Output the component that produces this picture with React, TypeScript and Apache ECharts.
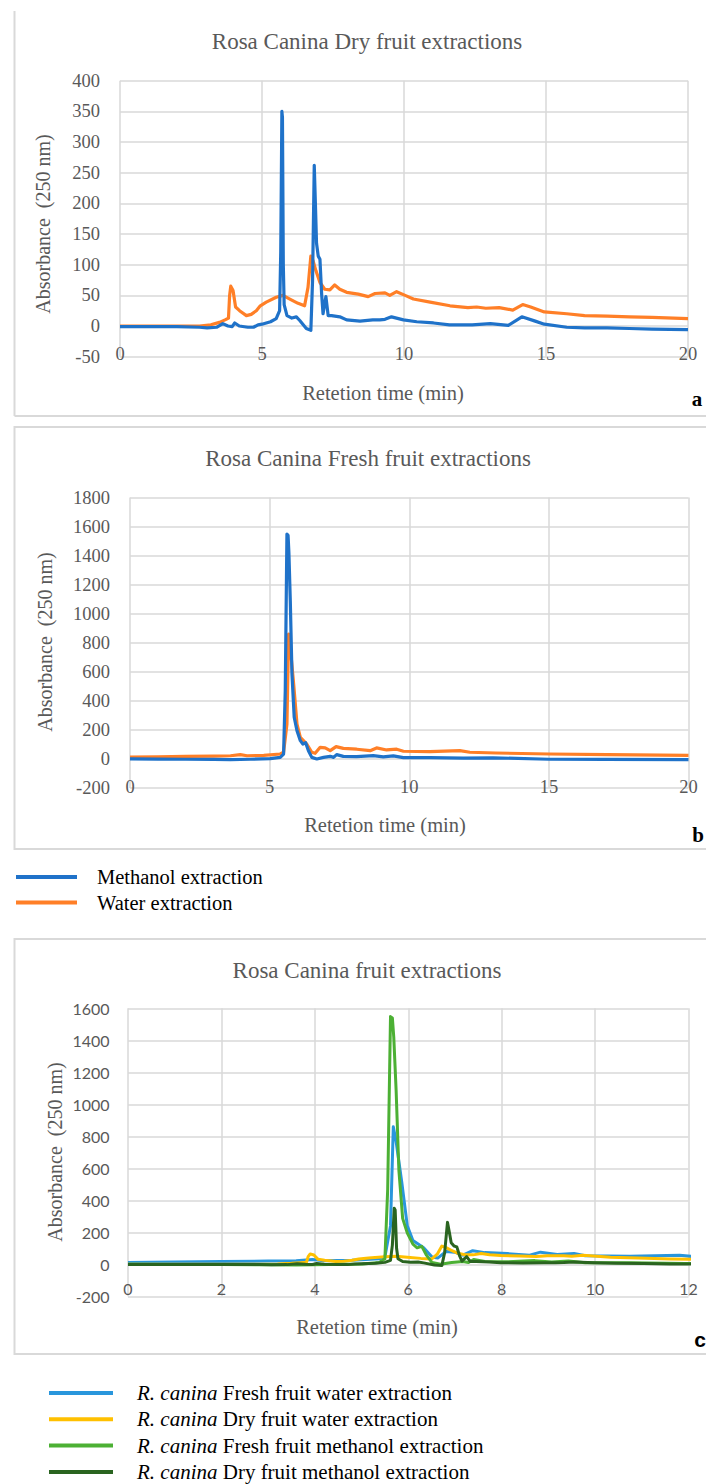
import React, { useEffect, useRef } from "react";
import * as echarts from "echarts";

// ---- Data (retention time in min, absorbance at 250 nm) ----
const dryMethanol: [number, number][] = [
  [0, -1], [1, -1], [2, -1], [2.8, -2], [3.07, -3], [3.4, -2], [3.62, 4], [3.8, 0], [3.95, -1], [4.04, 5],
  [4.2, 0], [4.5, -2], [4.7, -2], [4.86, 2], [5.0, 3], [5.3, 7], [5.5, 12], [5.62, 25], [5.66, 120],
  [5.7, 350], [5.72, 340], [5.75, 100], [5.78, 35], [5.88, 17], [6.05, 13], [6.21, 15], [6.33, 9],
  [6.56, -4], [6.72, -7], [6.78, 74], [6.84, 262], [6.88, 200], [6.92, 135], [6.98, 114], [7.04, 109],
  [7.1, 52], [7.15, 20], [7.25, 48], [7.33, 17], [7.45, 17], [7.74, 15], [7.98, 10], [8.45, 8], [8.9, 10],
  [9.15, 10], [9.33, 11], [9.56, 15], [9.98, 10], [10.45, 7], [11.04, 5], [11.6, 2], [12.4, 2], [13.04, 4],
  [13.67, 1], [14.15, 15], [14.62, 8], [14.94, 3], [15.73, -2], [16.36, -3], [17.15, -3], [17.94, -4],
  [18.73, -5], [20, -6],
];

const dryWater: [number, number][] = [
  [0, 0], [1, 0], [2, 0], [2.8, 0], [3.2, 2], [3.5, 6], [3.7, 10], [3.82, 13], [3.86, 50], [3.9, 65],
  [3.98, 58], [4.07, 31], [4.21, 25], [4.45, 17], [4.62, 19], [4.8, 25], [4.94, 33], [5.15, 39], [5.5, 47],
  [5.74, 50], [5.98, 44], [6.27, 37], [6.5, 33], [6.62, 63], [6.72, 114], [6.8, 106], [6.9, 90], [7.04, 71],
  [7.21, 60], [7.39, 59], [7.56, 67], [7.74, 60], [7.98, 55], [8.39, 52], [8.74, 48], [8.98, 53], [9.33, 54],
  [9.5, 50], [9.74, 56], [10.04, 50], [10.33, 44], [10.92, 39], [11.62, 33], [12.25, 30], [12.56, 31],
  [12.88, 29], [13.35, 30], [13.83, 26], [14.18, 35], [14.46, 31], [14.94, 23], [15.73, 20], [16.36, 17],
  [17.15, 16], [17.94, 15], [18.73, 14], [20, 12],
];

const freshMethanol: [number, number][] = [
  [0, 0], [1, -1], [2, -2], [3, -3], [3.6, -4], [4.31, -2], [5.02, 2], [5.38, 11], [5.5, 34], [5.56, 470],
  [5.62, 1548], [5.66, 1540], [5.69, 1420], [5.74, 1090], [5.8, 585], [5.88, 287], [5.98, 195], [6.1, 126],
  [6.19, 103], [6.29, 112], [6.39, 57], [6.51, 11], [6.69, 0], [6.93, 11], [7.17, 18], [7.29, 11], [7.4, 30],
  [7.64, 18], [8.12, 16], [8.71, 23], [9.07, 14], [9.43, 21], [9.79, 9], [10.74, 9], [11.93, 5], [13, 8],
  [15, -2], [17, -3], [20, -5],
];

const freshWater: [number, number][] = [
  [0, 12], [1, 15], [2, 18], [3, 20], [3.6, 22], [3.95, 30], [4.19, 22], [4.79, 25], [5.38, 34], [5.5, 46],
  [5.62, 240], [5.68, 860], [5.74, 768], [5.86, 516], [5.98, 240], [6.1, 149], [6.33, 103], [6.51, 46],
  [6.63, 39], [6.81, 80], [6.99, 76], [7.17, 57], [7.38, 85], [7.64, 73], [8.12, 67], [8.6, 57], [8.83, 76],
  [9.19, 62], [9.55, 67], [9.79, 53], [10.74, 50], [11.81, 57], [12.17, 46], [13.1, 41], [15, 34], [17.1, 30],
  [20, 25],
];

const titles = [
  "Rosa Canina Dry fruit extractions",
  "Rosa Canina Fresh fruit extractions",
  "Rosa Canina fruit extractions",
];
const xAxisName = "Retetion time (min)";
const yAxisName = "Absorbance  (250 nm)";
const panelLetters = ["a", "b", "c"];
const legendAB = ["Methanol extraction", "Water extraction"];
const legendC = [
  "R. canina Fresh fruit water extraction",
  "R. canina Dry fruit water extraction",
  "R. canina Fresh fruit methanol extraction",
  "R. canina Dry fruit methanol extraction",
];

const SERIF = '"Liberation Serif", "Times New Roman", serif';
const SANS = 'Lato, "Open Sans", sans-serif';
const GRAY = "#595959";
const GRID = "#d9d9d9";

const C_METH = "#1f72c9";
const C_WATER = "#ff7f27";
const C_FW = "#2996dc";
const C_DW = "#ffc000";
const C_FM = "#4cb034";
const C_DM = "#2a6420";

const plain = (v: number) => String(v);

function xAx(gridIndex: number, max: number, interval: number, font: string, size: number, margin: number) {
  return {
    type: "value",
    gridIndex,
    min: 0,
    max,
    interval,
    axisLine: { show: false },
    axisTick: { show: false },
    splitLine: { show: true, lineStyle: { color: GRID, width: 1.5 } },
    axisLabel: { fontFamily: font, fontSize: size, color: GRAY, margin, verticalAlign: "middle", formatter: plain },
  };
}
function yAx(gridIndex: number, min: number, max: number, interval: number, font: string, size: number, margin: number) {
  return {
    type: "value",
    gridIndex,
    min,
    max,
    interval,
    axisLine: { show: false },
    axisTick: { show: false },
    splitLine: { show: true, lineStyle: { color: GRID, width: 1.5 } },
    axisLabel: { fontFamily: font, fontSize: size, color: GRAY, margin, formatter: plain },
  };
}
function line(name: string, data: [number, number][], color: string, idx: number, width: number, z: number) {
  return {
    type: "line",
    name,
    data,
    xAxisIndex: idx,
    yAxisIndex: idx,
    showSymbol: false,
    symbol: "none",
    smooth: false,
    color,
    lineStyle: { color, width, join: "round" },
    z,
  };
}
function txt(x: number, y: number, text: string, size: number, opts: any = {}) {
  return {
    type: "text",
    x,
    y,
    rotation: opts.rotation || 0,
    style: {
      text,
      fontSize: size,
      fontFamily: opts.font || SERIF,
      fontWeight: opts.bold ? "bold" : "normal",
      fill: opts.color || GRAY,
      align: "center",
      verticalAlign: "middle",
    },
  };
}

export default function App() {
  const ref = useRef<HTMLDivElement>(null);
  useEffect(() => {
    const chart = echarts.init(ref.current as HTMLDivElement, null, { renderer: "svg" });
    const option: any = {
      animation: false,
      backgroundColor: "#ffffff",
      textStyle: { fontFamily: SERIF },
      grid: [
        { left: 120, top: 80.7, width: 568, height: 276 },
        { left: 130, top: 497.5, width: 558.5, height: 290.5 },
        { left: 128, top: 1008.3, width: 560.5, height: 288 },
      ],
      xAxis: [
        xAx(0, 20, 5, SERIF, 18.5, -3),
        xAx(1, 20, 5, SERIF, 18.5, -1),
        xAx(2, 12, 2, SANS, 16, -7.5),
      ],
      yAxis: [
        yAx(0, -50, 400, 50, SERIF, 18.5, 20),
        yAx(1, -200, 1800, 200, SERIF, 18.5, 20),
        yAx(2, -200, 1600, 200, SANS, 16, 18.5),
      ],
      legend: [
        {
          data: legendAB,
          orient: "vertical",
          left: 16,
          top: 866.5,
          height: 80,
          padding: 0,
          itemWidth: 61,
          itemHeight: 4,
          itemGap: 4.5,
          icon: "rect",
          selectedMode: false,
          textStyle: { fontFamily: SERIF, fontSize: 20.5, color: "#000", padding: [0, 0, 0, 15] },
        },
        {
          data: legendC,
          orient: "vertical",
          left: 49,
          top: 1382.5,
          height: 160,
          padding: 0,
          itemWidth: 64,
          itemHeight: 4,
          itemGap: 5.3,
          icon: "rect",
          selectedMode: false,
          formatter: (name: string) => "{i|R. canina}" + name.slice(9),
          textStyle: {
            fontFamily: SERIF,
            fontSize: 21,
            color: "#000",
            padding: [0, 0, 0, 19],
            rich: { i: { fontFamily: SERIF, fontStyle: "italic", fontSize: 21, color: "#000" } },
          },
        },
      ],
      series: [
        line(legendAB[1], dryWater, C_WATER, 0, 3.2, 2),
        line(legendAB[0], dryMethanol, C_METH, 0, 3.2, 3),
        line(legendAB[1], freshWater, C_WATER, 1, 3.2, 2),
        line(legendAB[0], freshMethanol, C_METH, 1, 3.2, 3),
        line(legendC[0], freshWater, C_FW, 2, 3, 2),
        line(legendC[1], dryWater, C_DW, 2, 3, 3),
        line(legendC[2], freshMethanol, C_FM, 2, 3, 4),
        line(legendC[3], dryMethanol, C_DM, 2, 3, 5),
      ],
      graphic: [
        // panel borders
        { type: "line", shape: { x1: 14.5, y1: 11, x2: 14.5, y2: 416 }, style: { stroke: GRID, lineWidth: 2 } },
        { type: "line", shape: { x1: 14.5, y1: 416, x2: 710, y2: 416 }, style: { stroke: GRID, lineWidth: 2 } },
        { type: "rect", shape: { x: 14.5, y: 427, width: 800, height: 422 }, style: { fill: "none", stroke: GRID, lineWidth: 2 } },
        { type: "rect", shape: { x: 14.5, y: 939, width: 800, height: 415 }, style: { fill: "none", stroke: GRID, lineWidth: 2 } },
        // titles
        txt(367, 41.7, titles[0], 23),
        txt(368, 458, titles[1], 23),
        txt(367, 970.5, titles[2], 23),
        // axis names
        txt(383, 393, xAxisName, 20.5),
        txt(385, 825, xAxisName, 20.5),
        txt(377, 1327, xAxisName, 20.5),
        txt(43, 224, yAxisName, 20, { rotation: Math.PI / 2 }),
        txt(45, 642, yAxisName, 20, { rotation: Math.PI / 2 }),
        txt(55, 1152, yAxisName, 20, { rotation: Math.PI / 2 }),
        // panel letters
        txt(697, 399, panelLetters[0], 21, { bold: true, color: "#000" }),
        txt(698, 835, panelLetters[1], 21, { bold: true, color: "#000" }),
        txt(700, 1339, panelLetters[2], 21, { bold: true, color: "#000", font: '"Liberation Sans", sans-serif' }),
      ],
    };
    chart.setOption(option);
    return () => chart.dispose();
  }, []);
  return (
    <div
      ref={ref}
      style={{ position: "absolute", left: 0, top: 0, width: 706, height: 1484, background: "#fff" }}
    />
  );
}
